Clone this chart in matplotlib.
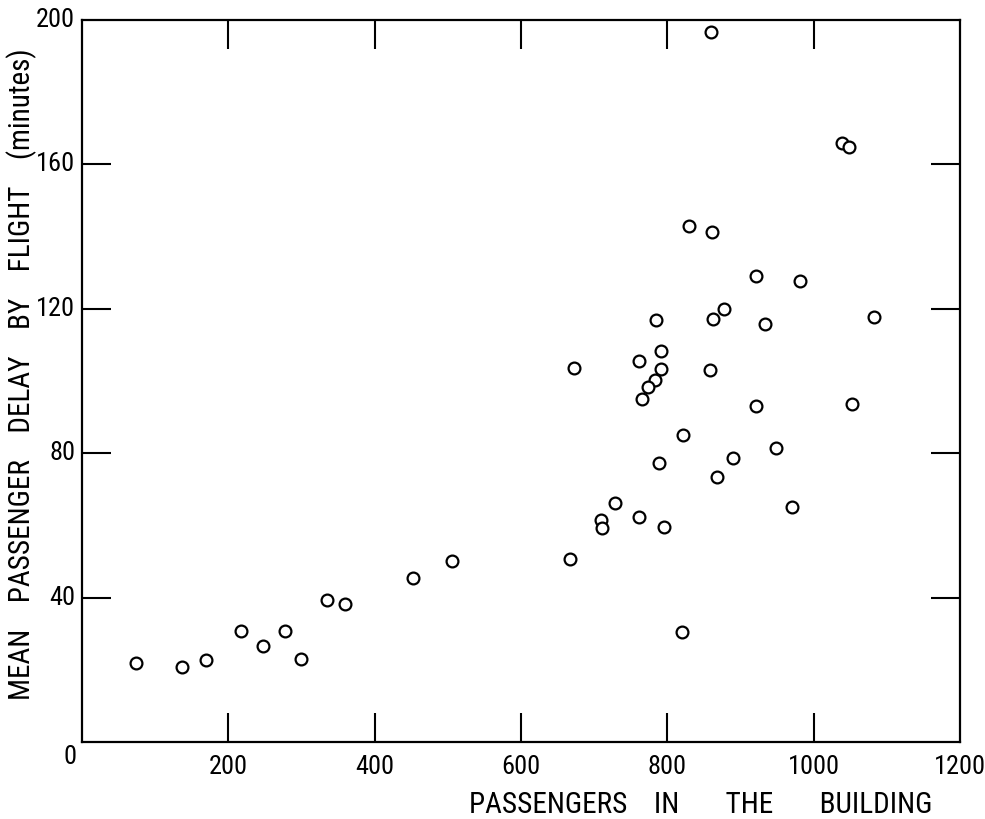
import matplotlib
matplotlib.use("Agg")
import matplotlib.pyplot as plt
from matplotlib import font_manager

# Passengers in the building vs mean passenger delay by flight (minutes)
passengers = [74, 137, 170, 218, 248, 278, 299, 335, 360, 452, 506,
              667, 820,
              830, 861, 921, 982, 878, 863, 784, 933, 1082, 791, 761, 672,
              791, 859, 783, 773, 766, 921, 1052, 822, 949, 789, 890, 868,
              970, 729, 710, 711, 761, 795,
              1039, 1048, 860]
delay = [21.9, 20.9, 22.6, 30.7, 26.5, 30.7, 23.1, 39.3, 38.3, 45.4, 50.1,
         50.8, 30.4,
         142.9, 141.4, 129.0, 127.6, 119.9, 117.1, 116.8, 115.9, 117.7, 108.4, 105.6, 103.5,
         103.3, 103.1, 100.4, 98.4, 95.0, 93.2, 93.7, 85.0, 81.4, 77.2, 78.7, 73.3,
         65.2, 66.2, 61.6, 59.2, 62.2, 59.6,
         166.0, 164.9, 196.8]

x_ticks = [200, 400, 600, 800, 1000]
y_ticks = [40, 80, 120, 160]

# narrow lettering if some condensed face is installed, else DejaVu
fonts = font_manager.fontManager.ttflist
names = {f.name for f in fonts}
stretch = "normal"
family = "DejaVu Sans"
for cand in ["Liberation Sans Narrow", "Roboto Condensed", "Open Sans Condensed"]:
    if cand in names:
        family = cand
        break
else:
    if any(f.name == "DejaVu Sans" and f.stretch == "condensed" for f in fonts):
        stretch = "condensed"
plt.rcParams["font.family"] = [family]
plt.rcParams["font.stretch"] = stretch

fig = plt.figure(figsize=(9.85, 8.19), dpi=100)
ax = fig.add_axes([0.0832, 0.094, 0.8914, 0.8816])

ax.plot(passengers, delay, "o", markersize=8.5, markerfacecolor="white",
        markeredgecolor="black", markeredgewidth=1.6, linestyle="none")

ax.set_xlim(0, 1200)
ax.set_ylim(0, 200)

for s in ax.spines.values():
    s.set_linewidth(1.6)

# inward ticks on all four sides, labels drawn by hand
ax.set_xticks(x_ticks)
ax.set_yticks(y_ticks)
ax.tick_params(axis="both", direction="in", length=21, width=1.5,
               top=True, right=True)
ax.set_xticklabels([])
ax.set_yticklabels([])

lab = dict(fontsize=19, color="black")
for v in x_ticks + [1200]:
    ax.text(v, -3.6, str(v), ha="center", va="top", **lab)
for v in y_ticks + [200]:
    ax.text(-9.5, v, str(v), ha="right", va="center", **lab)
ax.text(-7.5, -0.8, "0", ha="right", va="top", **lab)

fig.text(22 / 985, 0.543, "MEAN    PASSENGER    DELAY    BY    FLIGHT    (minutes)",
         rotation=90, ha="center", va="center", fontsize=21)
ax.text(0.968, -0.0985, "PASSENGERS    IN       THE       BUILDING",
        transform=ax.transAxes, ha="right", va="baseline", fontsize=21)

fig.savefig("out.png", dpi=100, facecolor="white")
